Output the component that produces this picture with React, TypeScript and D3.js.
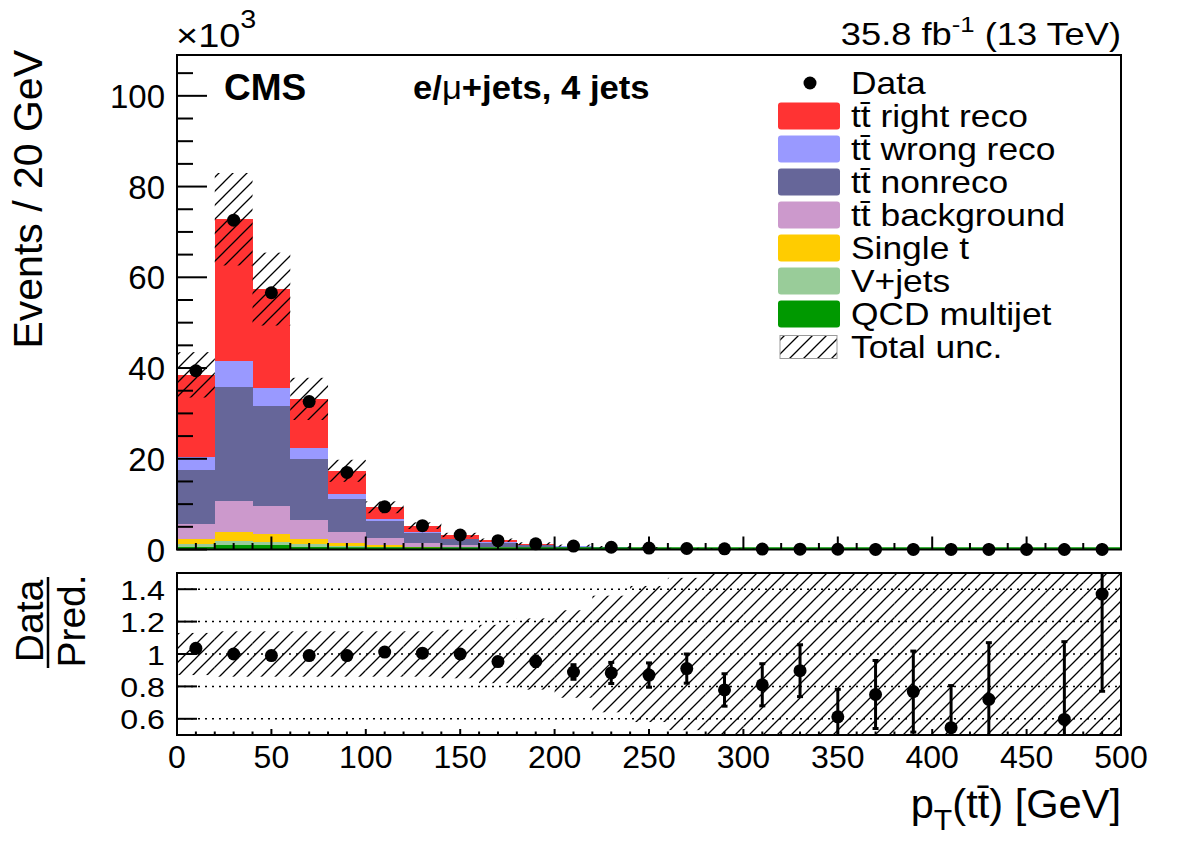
import React from "react";
import * as d3 from "d3";

// ---------- data (thousands of events per 20 GeV bin) ----------
const binEdges = d3.range(0, 501, 20);
const qcd = [0.6, 0.9, 0.9, 0.55, 0.35, 0.2, 0.12, 0.08, 0.05, 0.03, 0.02, 0.015, 0.01, 0.007, 0.005, 0.003, 0.002, 0.0015, 0.001, 0.0008, 0.0006, 0.0004, 0.0003, 0.0002, 0.0002];
const vjets = [0.7, 1.0, 0.75, 0.65, 0.5, 0.35, 0.23, 0.14, 0.09, 0.06, 0.04, 0.025, 0.017, 0.012, 0.008, 0.006, 0.004, 0.003, 0.002, 0.0015, 0.001, 0.0008, 0.0006, 0.0004, 0.0003];
const singleT = [1.0, 1.95, 1.75, 1.05, 0.65, 0.4, 0.25, 0.16, 0.1, 0.07, 0.045, 0.03, 0.02, 0.014, 0.01, 0.007, 0.005, 0.0035, 0.0025, 0.0018, 0.0013, 0.001, 0.0007, 0.0005, 0.0004];
const ttBkg = [3.3, 6.85, 6.2, 4.25, 2.4, 1.5, 0.9, 0.57, 0.37, 0.24, 0.16, 0.11, 0.073, 0.05, 0.034, 0.024, 0.017, 0.012, 0.0085, 0.006, 0.0043, 0.003, 0.0022, 0.0016, 0.0012];
const ttNonreco = [11.9, 25.2, 22.0, 13.5, 7.2, 3.9, 2.2, 1.3, 0.85, 0.55, 0.37, 0.245, 0.165, 0.112, 0.077, 0.055, 0.039, 0.028, 0.02, 0.0145, 0.0105, 0.0077, 0.0057, 0.0042, 0.0031];
const ttWrong = [2.9, 5.6, 4.1, 2.3, 1.1, 0.45, 0.2, 0.15, 0.09, 0.06, 0.04, 0.025, 0.017, 0.011, 0.007, 0.005, 0.004, 0.0025, 0.002, 0.0014, 0.001, 0.0007, 0.0005, 0.0004, 0.0003];
const ttRight = [18.1, 31.3, 21.7, 10.9, 5.15, 2.5, 1.35, 0.8, 0.5, 0.29, 0.175, 0.11, 0.068, 0.044, 0.029, 0.02, 0.014, 0.0095, 0.007, 0.005, 0.0035, 0.0025, 0.0018, 0.0013, 0.001];
const dataVals = [39.4, 72.6, 56.6, 32.6, 17.0, 9.4, 5.25, 3.2, 1.95, 1.24, 0.76, 0.49, 0.31, 0.22, 0.155, 0.093, 0.069, 0.054, 0.026, 0.023, 0.017, 0.0085, 0.0115, 0.005, 0.0069];
const relUnc = [0.13, 0.14, 0.14, 0.14, 0.14, 0.14, 0.14, 0.15, 0.18, 0.22, 0.27, 0.36, 0.42, 0.47, 0.6, 0.75, 0.85, 0.9, 1.0, 1.0, 1.0, 1.0, 1.0, 1.0, 1.0];
const ratioVals = [1.035, 1.0, 0.99, 0.99, 0.99, 1.012, 1.005, 1.0, 0.953, 0.955, 0.889, 0.883, 0.87, 0.91, 0.778, 0.81, 0.897, 0.612, 0.75, 0.768, 0.545, 0.72, 0.42, 0.596, 1.37];
const ratioErr = [0.005, 0.004, 0.004, 0.005, 0.007, 0.01, 0.014, 0.018, 0.025, 0.032, 0.045, 0.065, 0.075, 0.09, 0.1, 0.13, 0.16, 0.17, 0.21, 0.25, 0.26, 0.35, 0.4, 0.48, 0.6];

const yTicksMain = [0, 20, 40, 60, 80, 100];
const yTicksRatio = [0.6, 0.8, 1, 1.2, 1.4];
const yTickLabelsRatio = ["0.6", "0.8", "1", "1.2", "1.4"];
const xTicks = [0, 50, 100, 150, 200, 250, 300, 350, 400, 450, 500];

const layers = [
  { key: "qcd", label: "QCD multijet", color: "#009900", vals: qcd },
  { key: "vjets", label: "V+jets", color: "#99cc99", vals: vjets },
  { key: "singleT", label: "Single t", color: "#ffcc00", vals: singleT },
  { key: "ttBkg", label: "tt\u0304 background", color: "#cc99cc", vals: ttBkg },
  { key: "ttNonreco", label: "tt\u0304 nonreco", color: "#666699", vals: ttNonreco },
  { key: "ttWrong", label: "tt\u0304 wrong reco", color: "#9999ff", vals: ttWrong },
  { key: "ttRight", label: "tt\u0304 right reco", color: "#ff3333", vals: ttRight },
];

const FONT = "'Liberation Sans', Arial, Helvetica, sans-serif";

export default function App() {
  const L = 177, R = 1121;
  const mainTop = 55, mainBot = 549.5;
  const ratTop = 573, ratBot = 735;

  const x = d3.scaleLinear().domain([0, 500]).range([L, R]);
  const y = d3.scaleLinear().domain([0, 109]).range([mainBot, mainTop]);
  const yr = d3.scaleLinear().domain([0.5, 1.5]).range([ratBot, ratTop]);

  const nBins = binEdges.length - 1;
  const rows = d3.range(nBins).map((i) => {
    const r: any = { i };
    layers.forEach((l) => (r[l.key] = l.vals[i]));
    return r;
  });
  const stack = d3.stack().keys(layers.map((l) => l.key))(rows as any);
  const totals = rows.map((_, i) => d3.sum(layers, (l) => l.vals[i]));

  const xMinor = d3.range(0, 501, 10);
  const yMinor = d3.range(0, 109, 5);

  const legendRows = [
    { label: "Data", type: "data" },
    ...[...layers].reverse().map((l) => ({ label: l.label, type: "box", color: l.color })),
    { label: "Total unc.", type: "hatch" },
  ];

  const center = (i: number) => (binEdges[i] + binEdges[i + 1]) / 2;

  return (
    <svg width={1182} height={848} style={{ position: "absolute", left: 0, top: 0, background: "#fff" }} fontFamily={FONT}>
      <defs>
        <pattern id="hatch" patternUnits="userSpaceOnUse" width={14} height={14}>
          <path d="M-2,2 L2,-2 M0,14 L14,0 M12,16 L16,12" stroke="#000" strokeWidth={1.3} />
        </pattern>
        <clipPath id="clipMain">
          <rect x={L} y={mainTop} width={R - L} height={mainBot - mainTop} />
        </clipPath>
        <clipPath id="clipRatio">
          <rect x={L} y={ratTop} width={R - L} height={ratBot - ratTop} />
        </clipPath>
      </defs>
      <rect x={0} y={0} width={1182} height={848} fill="#fff" />

      {/* ---------- main panel ---------- */}
      <g clipPath="url(#clipMain)">
        {stack.map((s: any, li: number) => (
          <g key={layers[li].key} fill={layers[li].color} shapeRendering="crispEdges">
            {s.map((d: any, i: number) => (
              <rect key={i} x={x(binEdges[i])} width={x(binEdges[i + 1]) - x(binEdges[i])}
                y={y(d[1])} height={Math.max(0, y(d[0]) - y(d[1]))} />
            ))}
          </g>
        ))}
        <line x1={x(0)} x2={x(500)} y1={y(0) - 1} y2={y(0) - 1} stroke="#009900" strokeWidth={2.5} />
        {totals.map((t, i) => (
          <rect key={"u" + i} x={x(binEdges[i])} width={x(binEdges[i + 1]) - x(binEdges[i])}
            y={y(t * (1 + relUnc[i]))} height={Math.max(0, y(t * (1 - relUnc[i])) - y(t * (1 + relUnc[i])))}
            fill="url(#hatch)" />
        ))}
      </g>
      {dataVals.map((v, i) => (
        <circle key={"d" + i} cx={x(center(i))} cy={y(v)} r={6.5} fill="#000" />
      ))}
      <rect x={L} y={mainTop} width={R - L} height={mainBot - mainTop} fill="none" stroke="#000" strokeWidth={2} />
      {/* main y ticks */}
      {yMinor.map((v) => (
        <line key={"ym" + v} x1={L} x2={L + (v % 20 === 0 ? 30 : 16)} y1={y(v)} y2={y(v)} stroke="#000" strokeWidth={2} />
      ))}
      {yTicksMain.map((v) => (
        <text key={"yl" + v} x={165} y={y(v) + 12} fontSize={33} textAnchor="end">{v}</text>
      ))}
      {/* main x ticks */}
      {xMinor.map((v) => (
        <line key={"xm" + v} x1={x(v)} x2={x(v)} y1={mainBot} y2={mainBot - (v % 50 === 0 ? 13 : 6.5)} stroke="#000" strokeWidth={2} />
      ))}

      {/* texts top */}
      <text transform="translate(176,47) scale(1.15,1)" fontSize={33}>×10<tspan dy={-19} fontSize={25}>3</tspan></text>
      <text transform="translate(1121,45) scale(1.17,1)" fontSize={31} textAnchor="end">35.8 fb<tspan dy={-13} fontSize={22}>-1</tspan><tspan dy={13}> (13 TeV)</tspan></text>
      <text x={224} y={100} fontSize={37} fontWeight="bold">CMS</text>
      <text transform="translate(413,99) scale(1.05,1)" fontSize={33} fontWeight="bold">e/<tspan fontWeight="normal">μ</tspan>+jets, 4 jets</text>

      {/* legend */}
      {legendRows.map((r: any, k) => {
        const cy = 83 + k * 33;
        return (
          <g key={"lg" + k}>
            {r.type === "data" && <circle cx={810} cy={cy} r={6.5} fill="#000" />}
            {r.type === "box" && <rect x={778} y={cy - 13.5} width={62} height={27} rx={3} fill={r.color} />}
            {r.type === "hatch" && <rect x={780} y={cy - 11.5} width={57} height={23} fill="url(#hatch)" stroke="#999" strokeWidth={1} />}
            <text transform={`translate(851,${cy + 11}) scale(1.16,1)`} fontSize={30.5}>{r.label}</text>
          </g>
        );
      })}

      {/* y title */}
      <text transform="translate(42,50) rotate(-90)" fontSize={41} textAnchor="end">Events / 20 GeV</text>

      {/* ---------- ratio panel ---------- */}
      <g clipPath="url(#clipRatio)">
        {yTicksRatio.map((v) => (
          <line key={"g" + v} x1={L} x2={R} y1={yr(v)} y2={yr(v)} stroke="#000" strokeWidth={1.5} strokeDasharray="2,5" />
        ))}
        {relUnc.map((u, i) => (
          <rect key={"ru" + i} x={x(binEdges[i])} width={x(binEdges[i + 1]) - x(binEdges[i])}
            y={yr(1 + u)} height={yr(1 - u) - yr(1 + u)} fill="url(#hatch)" />
        ))}
        {ratioVals.map((v, i) => {
          if (v < 0.5 || v > 1.5) return null;
          const cx = x(center(i));
          const lo = v - ratioErr[i], hi = v + ratioErr[i];
          return (
            <g key={"rp" + i}>
              <line x1={cx} x2={cx} y1={yr(lo)} y2={yr(hi)} stroke="#000" strokeWidth={3} />
              <line x1={cx - 3} x2={cx + 3} y1={yr(lo)} y2={yr(lo)} stroke="#000" strokeWidth={3} />
              <line x1={cx - 3} x2={cx + 3} y1={yr(hi)} y2={yr(hi)} stroke="#000" strokeWidth={3} />
              <circle cx={cx} cy={yr(v)} r={6.5} fill="#000" />
            </g>
          );
        })}
      </g>
      <rect x={L} y={ratTop} width={R - L} height={ratBot - ratTop} fill="none" stroke="#000" strokeWidth={2} />
      {yTicksRatio.map((v, k) => (
        <g key={"ry" + v}>
          <line x1={L} x2={L + 20} y1={yr(v)} y2={yr(v)} stroke="#000" strokeWidth={2} />
          <text transform={`translate(165,${yr(v) + 10.5}) scale(1.13,1)`} fontSize={28.5} textAnchor="end">{yTickLabelsRatio[k]}</text>
        </g>
      ))}
      {xMinor.map((v) => (
        <line key={"rxm" + v} x1={x(v)} x2={x(v)} y1={ratBot} y2={ratBot - (v % 50 === 0 ? 6 : 3.5)} stroke="#000" strokeWidth={2} />
      ))}
      {xTicks.map((v) => (
        <text key={"xl" + v} x={x(v)} y={768} fontSize={32} textAnchor="middle">{v}</text>
      ))}

      {/* ratio y title */}
      <text transform="translate(43,621) rotate(-90)" fontSize={39} textAnchor="middle">Data</text>
      <text transform="translate(85,621) rotate(-90)" fontSize={39} textAnchor="middle">Pred.</text>
      <line x1={48} x2={48} y1={577} y2={668} stroke="#000" strokeWidth={2.5} />

      {/* x title */}
      <text transform="translate(1121,818) scale(1.04,1)" fontSize={40} textAnchor="end">p<tspan dy={12} fontSize={29}>T</tspan><tspan dy={-12}>(tt̄) [GeV]</tspan></text>
    </svg>
  );
}
